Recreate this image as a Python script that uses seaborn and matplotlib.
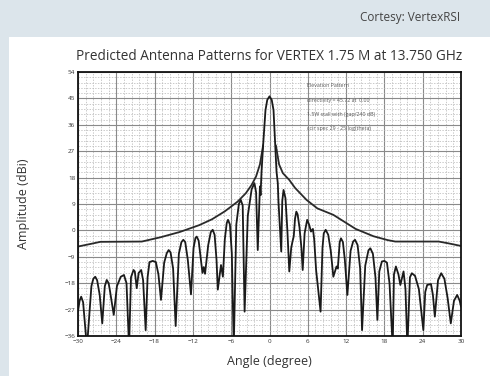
import numpy as np
import pandas as pd
import matplotlib
matplotlib.use("Agg")
import matplotlib.pyplot as plt
from matplotlib.patches import Rectangle
from matplotlib.ticker import AutoMinorLocator
import seaborn as sns

# 方向图数据（从参考图读取，角度/dBi 成对）
pattern_angle = [
    -30.0, -29.75, -29.5, -29.2, -28.6,
    -27.9, -27.6, -27.3, -27.0, -26.6, -26.2,
    -25.8, -25.5, -25.2, -25.0, -24.4, -23.9, -23.3, -22.8, -22.4, -22.0,
    -21.7, -21.3, -21.1, -20.8, -20.5, -20.1, -19.8, -19.4,
    -19.1, -18.8, -18.3, -17.8, -17.4, -17.0,
    -16.5, -16.1, -15.8, -15.5, -15.1, -14.7,
    -14.2, -13.8, -13.5, -13.2, -12.8, -12.3,
    -11.9, -11.6, -11.4, -11.1, -10.8, -10.5, -10.3, -10.1,
    -9.6, -9.2, -8.9, -8.6, -8.3, -8.1, -7.6, -7.3,
    -7.0, -6.7, -6.5, -6.2, -5.9, -5.6,
    -5.2, -4.8, -4.5, -4.2, -3.9,
    -3.4, -2.8, -2.36, -2.1, -1.84, -1.5, -1.4, -1.25, -1.0, -0.63, -0.35,
    0.0,
    0.35, 0.63, 0.9, 1.1, 1.3, 1.4, 1.84, 2.0, 2.2, 2.5, 2.8, 3.1,
    3.4, 3.6, 3.8, 4.0, 4.2, 4.4, 4.7, 5.0, 5.2,
    5.5, 5.9, 6.2, 6.5, 6.8, 7.0, 7.3, 8.0,
    8.3, 8.5, 8.8, 9.2, 9.6, 10.0, 10.5, 10.7,
    11.0, 11.2, 11.5, 11.8, 12.2,
    12.7, 13.1, 13.4, 13.8, 14.2, 14.5,
    15.0, 15.5, 15.8, 16.2, 16.6, 16.9,
    17.2, 17.6, 18.0, 18.4, 18.8, 19.3,
    19.5, 19.8, 20.2, 20.5, 21.0, 21.3, 21.6,
    22.0, 22.3, 22.8, 23.4, 24.1,
    24.4, 24.7, 25.3, 25.6, 25.9,
    26.4, 26.9, 27.4, 27.9, 28.4,
    28.9, 29.4, 29.8, 30.0,
]
pattern_db = [
    -27.5, -24.0, -22.6, -24.5, -40.0,
    -19.0, -16.5, -15.8, -17.0, -22.0, -31.7,
    -19.0, -16.9, -18.0, -20.5, -28.8, -19.0, -15.8, -15.2, -18.0, -40.0,
    -16.0, -13.5, -14.0, -19.7, -14.5, -13.5, -17.0, -34.0,
    -16.0, -10.8, -10.4, -10.8, -15.0, -23.7,
    -11.0, -7.8, -6.7, -7.5, -13.0, -32.6,
    -8.0, -4.0, -3.2, -4.0, -10.0, -21.8,
    -6.0, -2.6, -2.1, -3.5, -9.0, -14.5, -12.5, -14.8,
    -5.0, -0.6, 0.2, -1.5, -10.0, -20.2, -11.8, -15.8,
    -3.0, 2.5, 3.6, 2.0, -8.0, -40.0,
    2.0, 9.0, 10.4, 8.5, -27.7,
    5.0, 14.0, 16.1, 13.0, -6.7, 15.0, 12.0, 20.0, 29.0, 41.0, 44.5,
    45.7,
    44.5, 41.0, 29.0, 20.0, 16.1, 10.0, -7.2, 10.0, 13.8, 11.0, 0.0, -14.0,
    -6.0, -3.8, -2.0, 4.0, 6.4, 5.5, 1.0, -6.0, -13.5,
    -1.0, 3.6, 2.0, -0.4, 0.5, -3.0, -13.5, -27.7,
    -6.0, -1.0, 0.2, -1.5, -7.0, -15.8, -12.3, -13.0,
    -4.0, -2.7, -4.0, -10.0, -22.0,
    -7.0, -3.8, -3.2, -5.0, -13.0, -34.0,
    -12.0, -6.8, -6.1, -8.0, -16.0, -30.5,
    -14.0, -10.6, -10.4, -11.0, -18.0, -40.0,
    -15.0, -12.3, -15.0, -18.6, -14.0, -20.0, -40.0,
    -16.0, -14.6, -15.5, -20.0, -34.0,
    -21.0, -18.6, -18.3, -22.0, -29.4,
    -17.0, -14.6, -16.5, -23.0, -31.7,
    -24.0, -22.0, -24.0, -26.0,
]

# CCIR 包络线
env_left_angle = [-30.0, -28.0, -26.5, -20.0, -17.0, -14.0, -11.0, -9.0, -7.0, -5.0,
                  -3.7, -2.8, -2.1, -1.5, -1.0]
env_left_db = [-5.5, -4.6, -3.9, -3.8, -2.3, -0.5, 1.8, 3.8, 6.5, 9.8,
               12.7, 15.5, 18.4, 22.5, 29.0]
env_right_angle = [1.0, 1.5, 2.1, 3.1, 4.0, 5.8, 7.5, 10.0, 13.5, 16.3,
                   18.5, 19.7, 26.5, 28.0, 30.0]
env_right_db = [29.0, 22.5, 19.5, 17.2, 14.5, 10.4, 7.5, 5.3, 0.5, -2.0,
                -3.3, -3.8, -3.8, -4.4, -5.3]

x_ticks = [-30, -24, -18, -12, -6, 0, 6, 12, 18, 24, 30]
y_ticks = [-36, -27, -18, -9, 0, 9, 18, 27, 36, 45, 54]

notes = [
    "Elevation Pattern",
    "directivity = 45.72 at  0.00",
    "1.5W stall with (gap/240 dB)",
    "ccir spec 29 - 25 log(theta)",
]

sns.set_style("white")
plt.rcParams['font.family'] = ['Open Sans', 'DejaVu Sans']

fig = plt.figure(figsize=(4.9, 3.76), dpi=100, facecolor='#dce5eb')
fig.patches.append(Rectangle((9 / 490, 0), 1, 1 - 37 / 376, transform=fig.transFigure,
                             facecolor='white', edgecolor='none', zorder=-10))

ax = fig.add_axes([78 / 490, 1 - 336 / 376, 383 / 490, 264 / 376])
ax.set_zorder(1)

df_pat = pd.DataFrame({'angle': pattern_angle, 'db': pattern_db})
df_envl = pd.DataFrame({'angle': env_left_angle, 'db': env_left_db})
df_envr = pd.DataFrame({'angle': env_right_angle, 'db': env_right_db})

sns.lineplot(data=df_envl, x='angle', y='db', ax=ax, color='#2a2a2a', linewidth=1.3, sort=False)
sns.lineplot(data=df_envr, x='angle', y='db', ax=ax, color='#2a2a2a', linewidth=1.3, sort=False)
sns.lineplot(data=df_pat, x='angle', y='db', ax=ax, color='#1a1a1a', linewidth=1.3, sort=False)

ax.set_xlim(-30, 30)
ax.set_ylim(-36, 54)
ax.set_xticks(x_ticks)
ax.set_yticks(y_ticks)
ax.xaxis.set_minor_locator(AutoMinorLocator(5))
ax.yaxis.set_minor_locator(AutoMinorLocator(5))
ax.grid(which='major', color='#8a8a8a', linewidth=0.8)
ax.grid(which='minor', color='#b5b5b5', linewidth=0.5, linestyle=(0, (2, 2)))
ax.set_axisbelow(True)
ax.tick_params(which='both', length=0, labelsize=4.5, labelcolor='#333333', pad=2)
for s in ax.spines.values():
    s.set_color('#111111')
    s.set_linewidth(1.3)

ax.set_xlabel('Angle (degree)', fontsize=9, color='#333333', labelpad=8)
ax.set_ylabel('Amplitude (dBi)', fontsize=9, color='#333333', labelpad=25)
ax.set_title('Predicted Antenna Patterns for VERTEX 1.75 M at 13.750 GHz',
             fontsize=9.8, color='#333333', pad=9)

for i, t in enumerate(notes):
    ax.text(5.8, 49.3 - i * 4.9, t, fontsize=3.8, color='#555555', va='center')

fig.text(460 / 490, 1 - 18 / 376, 'Cortesy: VertexRSI', ha='right', va='center',
         fontsize=8.5, color='#444444')

fig.savefig('out.png', dpi=100, facecolor=fig.get_facecolor())
